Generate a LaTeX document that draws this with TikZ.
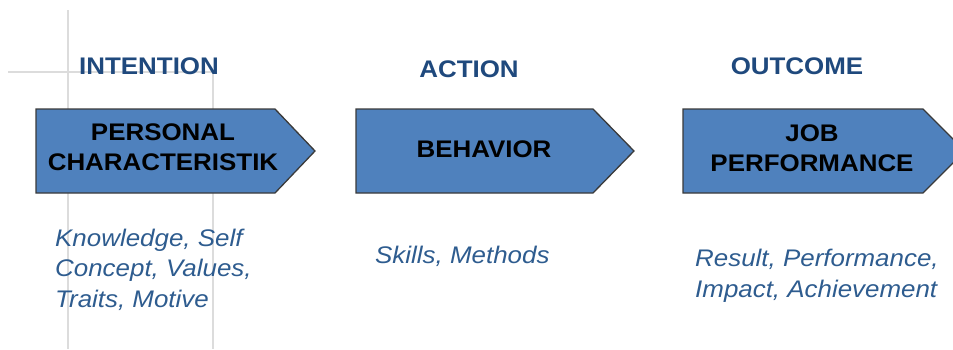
\documentclass[tikz,border=0pt]{standalone}
\usepackage{fontspec}
\setmainfont[FakeStretch=1.08]{Liberation Sans}
\definecolor{boxblue}{HTML}{4F81BD}
\definecolor{boxline}{HTML}{3A3A3A}
\definecolor{headblue}{HTML}{1F497D}
\definecolor{itblue}{HTML}{2E5C8F}
\definecolor{gridgray}{HTML}{DCDCDC}
\begin{document}
\begin{tikzpicture}[x=1pt,y=-1pt,
  gridline/.style={draw=gridgray,line width=2pt},
  chevron/.style={fill=boxblue,draw=boxline,line width=1.3pt,line join=miter},
  head/.style={font=\fontsize{24}{28}\selectfont\bfseries,text=headblue,inner sep=0pt,anchor=base},
  boxtext/.style={font=\fontsize{24}{30}\selectfont\bfseries,text=black,inner sep=0pt,anchor=base,align=center},
  desc/.style={font=\fontsize{24}{30.5}\selectfont\itshape,text=itblue,inner sep=0pt,anchor=base west,align=left}]
\useasboundingbox (0,0) rectangle (953,349);
\clip (0,0) rectangle (953,349);
% background grid lines
\draw[gridline] (68,10) -- (68,349);
\draw[gridline] (213,72) -- (213,349);
\draw[gridline] (8,72) -- (213,72);
% headers
\node[head] (h1) at (149,74) {INTENTION};
\node[head] (h2) at (469,77) {ACTION};
\node[head] (h3) at (797,74) {OUTCOME};
% chevrons
\draw[chevron] (36,109) -- (275,109) -- (315,151) -- (275,193) -- (36,193) -- cycle;
\draw[chevron] (356,109) -- (593,109) -- (634,151) -- (593,193) -- (356,193) -- cycle;
\draw[chevron] (683,109) -- (923,109) -- (965,151) -- (923,193) -- (683,193) -- cycle;
% box texts (anchor at baseline of last line)
\node[boxtext] (b1) at (163,170) {PERSONAL\\CHARACTERISTIK};
\node[boxtext] (b2) at (484,157) {BEHAVIOR};
\node[boxtext] (b3) at (812,171) {JOB\\PERFORMANCE};
% descriptions
\node[desc] (d1) at (55,307) {Knowledge, Self\\Concept, Values,\\Traits, Motive};
\node[desc] (d2) at (375,263) {Skills, Methods};
\node[desc] (d3) at (695,297) {Result, Performance,\\Impact, Achievement};
\end{tikzpicture}
\end{document}
